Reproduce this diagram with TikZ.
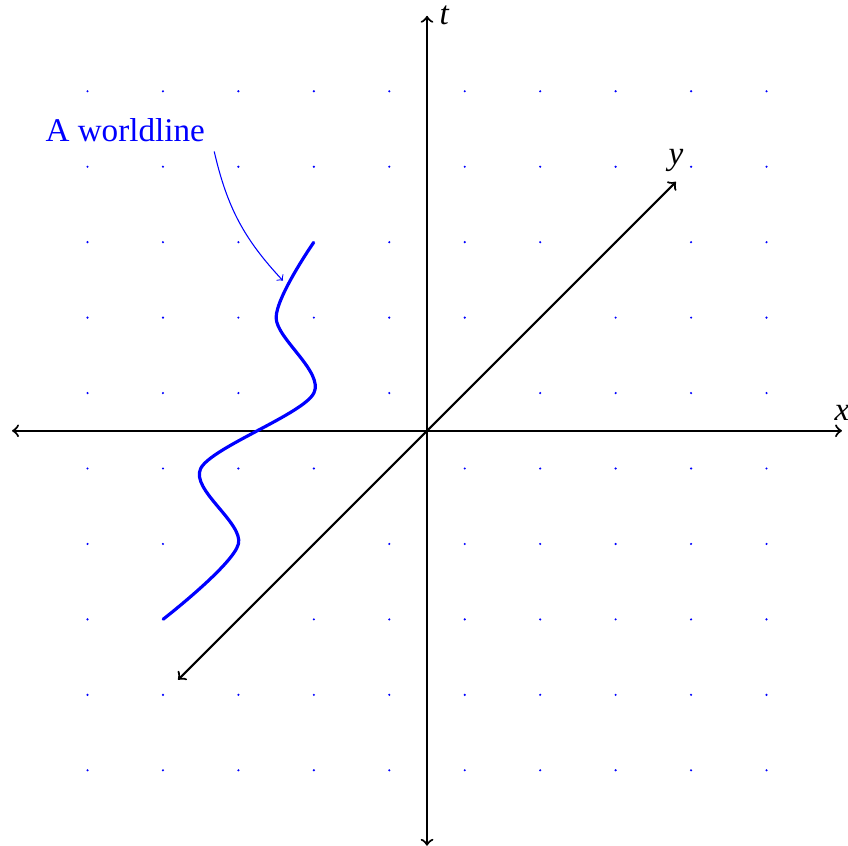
\documentclass[tikz,border=0pt]{standalone}
\usepackage{fontspec}
\setmainfont{Liberation Serif}
\begin{document}
\begin{tikzpicture}[font=\fontsize{12.5}{15}\selectfont]
  \useasboundingbox (-5.66,-5.5) rectangle (5.58,5.71);
  % grid of dots
  \foreach \x in {-4.5,-3.5,...,4.5}
    \foreach \y in {-4.5,-3.5,...,4.5}
      \fill[blue] (\x,\y) circle (0.45pt);
  % axes
  \coordinate (xmin) at (-5.5,0);
  \coordinate (xmax) at (5.5,0);
  \coordinate (tmin) at (0,-5.5);
  \coordinate (tmax) at (0,5.5);
  \coordinate (ymin) at (-3.3,-3.3);
  \coordinate (ymax) at (3.3,3.3);
  \draw[thick,<->] (xmin)--(xmax) node (xlabel) [above] {\textit{x}};
  \draw[thick,<->] (tmin)--(tmax) node (tlabel) [right,xshift=1pt] {\textit{t}};
  \draw[thick,<->] (ymin)--(ymax) node (ylabel) [above] {\textit{y}};
  % the worldline
  \draw[blue,very thick] plot[smooth] coordinates
    {(-3.5,-2.5) (-2.5,-1.5) (-3,-0.5) (-1.5,0.5) (-2,1.5) (-1.5,2.5)};
  \node[blue] (wl) at (-4.0,3.98) {A worldline};
  \coordinate (wlend) at (-1.91,1.99);
  \draw[blue,->] (wl.south east) to[bend right=15] (wlend);
\end{tikzpicture}
\end{document}
